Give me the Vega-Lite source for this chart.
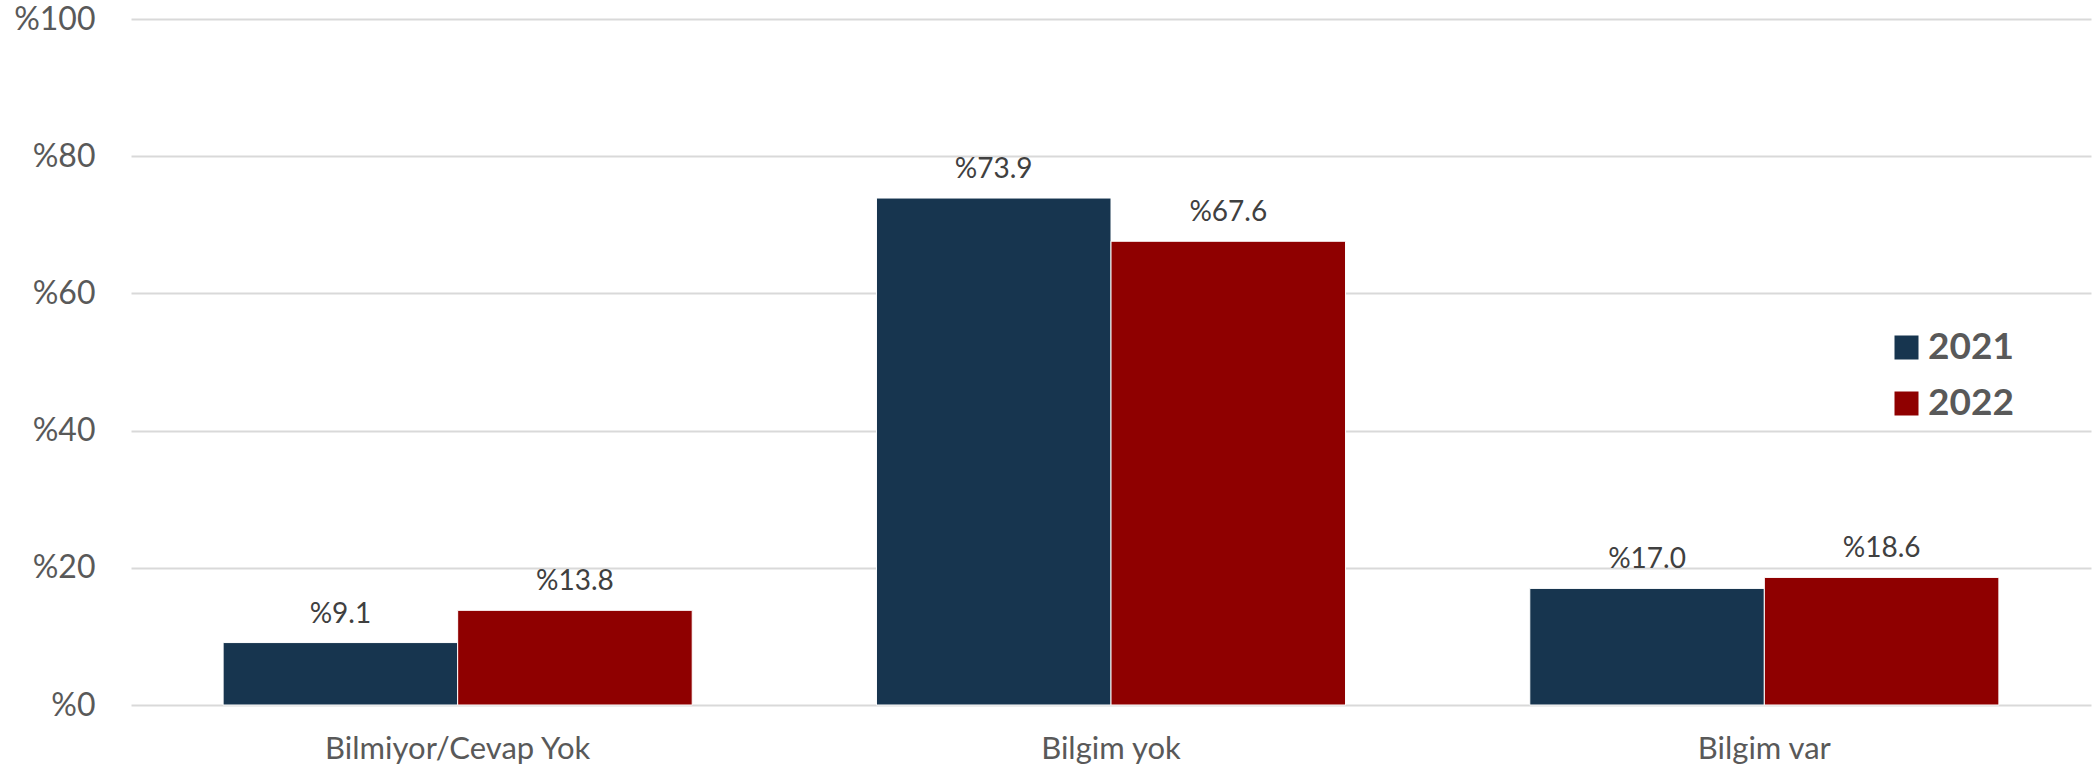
{
  "$schema": "https://vega.github.io/schema/vega-lite/v6.json",
  "width": 1960,
  "height": 686,
  "autosize": {"type": "none"},
  "padding": {"left": 131, "top": 19, "right": 3, "bottom": 69},
  "background": "white",
  "config": {"view": {"stroke": null}, "font": "Lato"},
  "data": {
    "values": [
      {"category": "Bilmiyor/Cevap Yok", "year": "2021", "value": 9.1, "label": "%9.1"},
      {"category": "Bilmiyor/Cevap Yok", "year": "2022", "value": 13.8, "label": "%13.8"},
      {"category": "Bilgim yok", "year": "2021", "value": 73.9, "label": "%73.9"},
      {"category": "Bilgim yok", "year": "2022", "value": 67.6, "label": "%67.6"},
      {"category": "Bilgim var", "year": "2021", "value": 17.0, "label": "%17.0"},
      {"category": "Bilgim var", "year": "2022", "value": 18.6, "label": "%18.6"}
    ]
  },
  "encoding": {
    "x": {
      "field": "category",
      "type": "nominal",
      "sort": ["Bilmiyor/Cevap Yok", "Bilgim yok", "Bilgim var"],
      "scale": {"paddingInner": 0.282, "paddingOuter": 0.141},
      "axis": {
        "title": null,
        "labelAngle": 0,
        "labelFontSize": 31,
        "labelColor": "#595959",
        "labelPadding": 29,
        "labelLimit": 0,
        "domain": false,
        "ticks": false,
        "grid": false
      }
    },
    "xOffset": {
      "field": "year",
      "type": "nominal",
      "scale": {"paddingInner": 0, "paddingOuter": 0}
    },
    "y": {
      "field": "value",
      "type": "quantitative",
      "scale": {"domain": [0, 100], "nice": false},
      "axis": {
        "title": null,
        "values": [0, 20, 40, 60, 80, 100],
        "labelExpr": "'%' + datum.value",
        "labelFontSize": 32,
        "labelColor": "#595959",
        "labelPadding": 36,
        "domain": false,
        "ticks": false,
        "grid": true,
        "gridColor": "#d9d9d9",
        "gridWidth": 2
      }
    }
  },
  "layer": [
    {
      "mark": {"type": "bar", "stroke": "white", "strokeWidth": 1},
      "encoding": {
        "color": {
          "field": "year",
          "type": "nominal",
          "scale": {"domain": ["2021", "2022"], "range": ["#17354f", "#8f0000"]},
          "legend": {
            "title": null,
            "orient": "none",
            "legendX": 1757,
            "legendY": 310,
            "symbolType": "square",
            "symbolSize": 576,
            "symbolStrokeWidth": 0,
            "labelFontSize": 37,
            "labelFontWeight": "bold",
            "labelColor": "#595959",
            "labelOffset": 3,
            "rowPadding": 18,
            "padding": 0
          }
        }
      }
    },
    {
      "mark": {"type": "text", "baseline": "alphabetic", "dy": -20, "fontSize": 28, "color": "#404040"},
      "encoding": {
        "text": {"field": "label", "type": "nominal"}
      }
    }
  ]
}
